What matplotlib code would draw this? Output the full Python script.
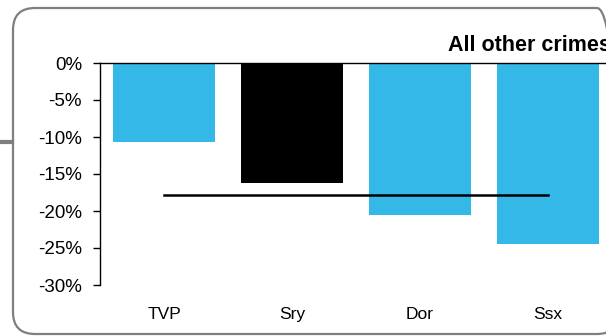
import matplotlib.pyplot as plt
from matplotlib.patches import FancyBboxPatch
from matplotlib.lines import Line2D
from matplotlib.ticker import FuncFormatter

# data
forces = ["TVP", "Sry", "Dor", "Ssx"]
change = [-10.7, -16.2, -20.5, -24.5]
bar_colours = ["#33B8E8", "#000000", "#33B8E8", "#33B8E8"]
average = -17.9
title = "All other crimes"

plt.rcParams["font.family"] = ["Liberation Sans", "DejaVu Sans"]

fig = plt.figure(figsize=(6.06, 3.36), dpi=100)
ax = fig.add_axes([100 / 606, 51 / 336, 512 / 606, 222 / 336])

x = range(len(forces))
ax.bar(x, change, width=0.8, color=bar_colours, zorder=2)
ax.plot([0, len(forces) - 1], [average, average], color="black", lw=1.8, zorder=3)

ax.set_xlim(-0.5, len(forces) - 0.5)
ax.set_ylim(-30, 0)
ax.set_yticks(range(-30, 1, 5))
ax.yaxis.set_major_formatter(FuncFormatter(lambda v, p: f"{v:.0f}%"))
ax.set_xticks(list(x))
ax.set_xticklabels(forces)

ax.spines["right"].set_visible(False)
ax.spines["bottom"].set_visible(False)
ax.spines["top"].set_linewidth(1.0)
ax.spines["left"].set_linewidth(1.0)
ax.tick_params(axis="y", direction="out", length=5, width=1, pad=8, labelsize=13.5)
ax.tick_params(axis="x", length=0, pad=16, labelsize=12.5)

# title runs off the right edge, as in the reference
fig.text(448 / 606, 285 / 336, title, ha="left", va="baseline",
         fontsize=15.5, fontweight="bold")

# rounded frame around the chart and the little connector on the left
frame = FancyBboxPatch((0.13, 0.02), 6.06, 3.26,
                       boxstyle="round,pad=0,rounding_size=0.22",
                       transform=fig.dpi_scale_trans, fill=False,
                       edgecolor="#7F7F7F", lw=1.6)
fig.patches.append(frame)
fig.lines.append(Line2D([0, 0.12], [1.94, 1.94], transform=fig.dpi_scale_trans,
                        color="#7F7F7F", lw=3))

fig.savefig("out.png", dpi=100)
